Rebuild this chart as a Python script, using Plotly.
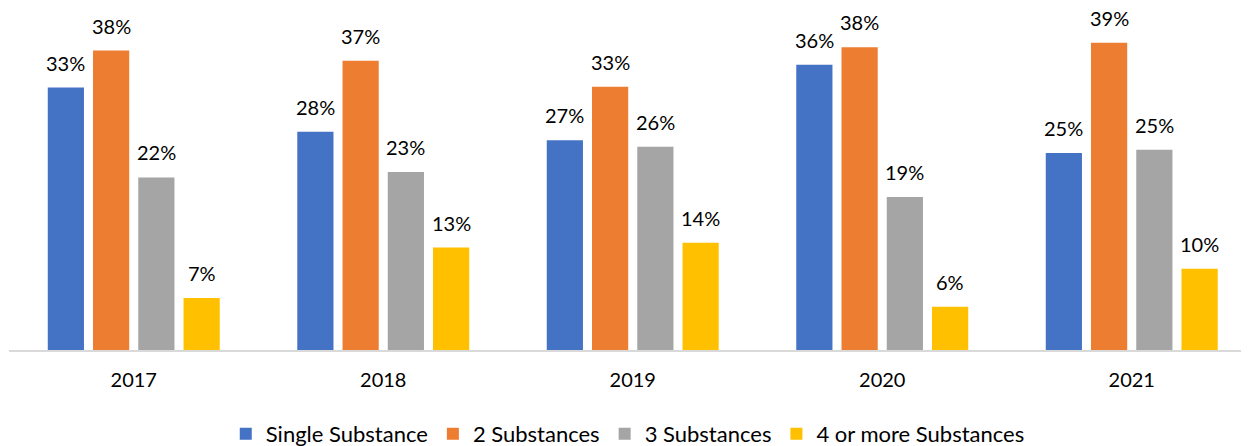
import plotly.graph_objects as go

years = ["2017", "2018", "2019", "2020", "2021"]
series_names = ["Single Substance", "2 Substances", "3 Substances", "4 or more Substances"]
single = [0.333, 0.277, 0.266, 0.362, 0.250]
two = [0.380, 0.367, 0.334, 0.384, 0.390]
three = [0.219, 0.226, 0.258, 0.194, 0.254]
four_plus = [0.066, 0.130, 0.136, 0.055, 0.103]
colors = ["#4472C4", "#ED7D31", "#A5A5A5", "#FFC000"]

all_series = [single, two, three, four_plus]
FONT = "Lato"

fig = go.Figure()
for name, vals, c in zip(series_names, all_series, colors):
    fig.add_trace(go.Bar(x=years, y=vals, name=name, marker=dict(color=c, line=dict(width=0))))

annotations = []
for i, vals in enumerate(all_series):
    for j, v in enumerate(vals):
        annotations.append(dict(
            x=j, y=v, xref="x", yref="y", text=f"{round(v*100)}%",
            showarrow=False, yanchor="bottom", xanchor="center",
            xshift=(i - 1.5) * 45.3, yshift=11,
            font=dict(family=FONT, size=20, color="#000000"),
        ))

# page body has an 8px default margin; size the figure to fit the 1249x446 window
fig.update_layout(
    width=1241, height=438,
    margin=dict(l=1, r=0, t=11, b=96, autoexpand=False),
    plot_bgcolor="white", paper_bgcolor="white",
    barmode="group", bargap=0.2745, bargroupgap=0.2,
    showlegend=True,
    legend=dict(orientation="h", x=0.499, xanchor="center", y=-0.19, yanchor="top",
                font=dict(family=FONT, size=22, color="#000000"),
                itemwidth=30, traceorder="normal"),
    annotations=annotations,
    font=dict(family=FONT, size=20, color="#000000"),
)
fig.update_xaxes(type="category", range=[-0.5, 4.47], showline=True, linecolor="#D9D9D9",
                 linewidth=2, ticks="outside", ticklen=11, tickcolor="rgba(0,0,0,0)",
                 tickfont=dict(family=FONT, size=20, color="#000000"))
fig.update_yaxes(range=[0, 0.42], showticklabels=False, showgrid=False, zeroline=False)

fig.write_html("out.html")
